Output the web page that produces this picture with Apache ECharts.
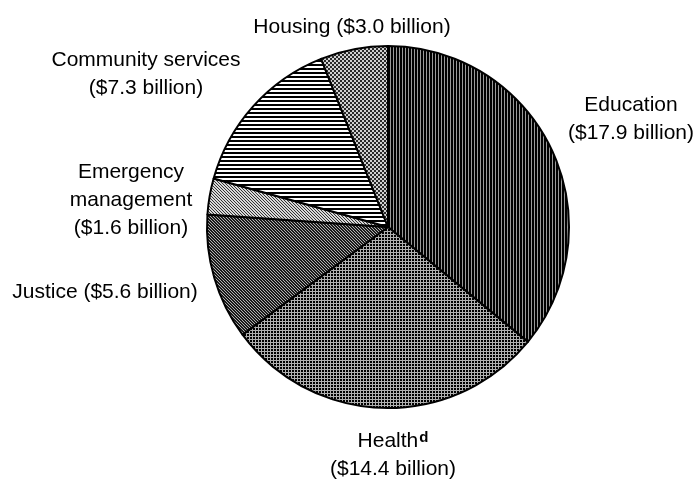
<!DOCTYPE html>
<html><head><meta charset="utf-8">
<script src="https://cdn.jsdelivr.net/npm/echarts@6/dist/echarts.min.js"></script>
<style>html,body{margin:0;padding:0;background:#fff}#c{width:696px;height:482px}</style>
</head><body><div id="c"></div>
<script>
var categories = ['Education', 'Health', 'Justice', 'Emergency management', 'Community services', 'Housing'];
var values = [17.9, 14.4, 5.6, 1.6, 7.3, 3.0];
var labelTexts = [
  'Education\n($17.9 billion)',
  '{n|Health}{sup|d}\n($14.4 billion)',
  'Justice ($5.6 billion)',
  'Emergency\nmanagement\n($1.6 billion)',
  'Community services\n($7.3 billion)',
  'Housing ($3.0 billion)'
];
var labelPos = [[631,119],[393,455],[105,292],[131,200],[146,74],[352,27]];

function pat(w, h, fn) {
  var c = document.createElement('canvas'); c.width = w; c.height = h;
  var ctx = c.getContext('2d');
  for (var y = 0; y < h; y++) for (var x = 0; x < w; x++) {
    ctx.fillStyle = fn(x, y); ctx.fillRect(x, y, 1, 1);
  }
  return {image: c, repeat: 'repeat'};
}
var patterns = [
  pat(3, 3, function (x, y) { return x % 3 === 0 ? '#9a9a9a' : '#000'; }),
  pat(3, 3, function (x, y) { return (x % 3 === 0 || y % 3 === 0) ? '#b0b0b0' : '#000'; }),
  pat(3, 3, function (x, y) { return ((x - y + 3) % 3 === 0) ? '#b0b0b0' : '#1a1a1a'; }),
  pat(3, 3, function (x, y) { return ((x - y + 3) % 3 === 0) ? '#333' : '#d8d8d8'; }),
  pat(1, 4, function (x, y) { return y % 4 < 2 ? '#000' : '#fff'; }),
  pat(4, 4, function (x, y) { return ((x >> 1) + (y >> 1)) % 2 === 0 ? '#2a2a2a' : '#d0d0d0'; })
];

var data = categories.map(function (c, i) {
  return {name: c, value: values[i], itemStyle: {color: patterns[i]}};
});

var FONT = 'Liberation Sans, Arial, sans-serif';
var chart = echarts.init(document.getElementById('c'), null, {renderer: 'canvas'});
chart.setOption({
  animation: false,
  backgroundColor: '#fff',
  series: [{
    type: 'pie',
    center: [388, 227],
    radius: 181,
    startAngle: 90,
    clockwise: true,
    data: data,
    itemStyle: {borderColor: '#000', borderWidth: 2},
    label: {
      show: true,
      position: 'outside',
      color: '#000',
      fontFamily: FONT,
      fontSize: 21,
      lineHeight: 28,
      align: 'center',
      overflow: 'none',
      formatter: function (p) { return labelTexts[p.dataIndex]; },
      rich: {
        n: {fontFamily: FONT, fontSize: 21, color: '#000', lineHeight: 28},
        sup: {fontFamily: FONT, fontSize: 15, fontWeight: 'bold', color: '#000', padding: [0, 0, 7, 1], lineHeight: 28}
      }
    },
    labelLine: {show: false},
    labelLayout: function (p) {
      var pos = labelPos[p.dataIndex];
      return {x: pos[0], y: pos[1], align: 'center', verticalAlign: 'middle', hideOverlap: false, moveOverlap: null};
    },
    emphasis: {disabled: true}
  }]
});
</script></body></html>
